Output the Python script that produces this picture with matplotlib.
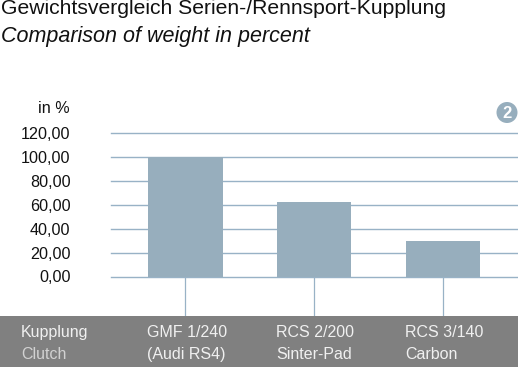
import matplotlib
matplotlib.use("Agg")
import matplotlib.pyplot as plt
from matplotlib.patches import Rectangle, Circle

categories = ["GMF 1/240", "RCS 2/200", "RCS 3/140"]
subcategories = ["(Audi RS4)", "Sinter-Pad", "Carbon"]
values = [100.0, 62.5, 29.5]
yticks = [0, 20, 40, 60, 80, 100, 120]
ytick_labels = ["0,00", "20,00", "40,00", "60,00", "80,00", "100,00", "120,00"]

W, H = 518, 368
BAR = "#97aebd"
GRID = "#98b2c6"
BAND = "#808080"
plt.rcParams["font.family"] = ["Liberation Sans", "DejaVu Sans"]

fig = plt.figure(figsize=(W / 100, H / 100), dpi=100, facecolor="white")
ax = fig.add_axes([111 / W, 1 - 276.5 / H, (W - 111) / W, 143.5 / H])
ax.set_xlim(-0.5775, 2.578)
ax.set_ylim(0, 120)
ax.patch.set_alpha(0)
for s in ax.spines.values():
    s.set_visible(False)
ax.set_axisbelow(True)
ax.yaxis.grid(True, color=GRID, lw=1.0)
for g in ax.get_ygridlines():
    g.set_clip_on(False)
ax.bar(range(len(values)), values, width=0.574, color=BAR, zorder=3)
ax.set_xticks(range(len(values)))
ax.set_xticklabels([])
ax.tick_params(axis="x", length=28.8, width=0.9, color=GRID)
ax.set_yticks(yticks)
ax.set_yticklabels(ytick_labels, fontsize=11.6, color="#111111")
ax.tick_params(axis="y", length=0, pad=29.2)
for g in ax.get_ygridlines():
    g.set_clip_on(False)

def T(x, y, s, **k):
    fig.text(x / W, 1 - y / H, s, va="baseline", **k)

T(1, 14, "Gewichtsvergleich Serien-/Rennsport-Kupplung", fontsize=15.2, color="#111111")
T(1, 42, "Comparison of weight in percent", fontsize=15.5, style="italic", color="#111111")
T(70, 113, "in %", ha="right", fontsize=11.6, color="#111111")

fig.add_artist(Rectangle((0, 1 - 367 / H), 1, 51 / H, transform=fig.transFigure, color=BAND, lw=0))

T(21, 337, "Kupplung", fontsize=11.5, color="#f0f0f0")
T(21, 359, "Clutch", fontsize=11.5, color="#d2d2d2")
for x, a, b in zip([147, 276, 405], categories, subcategories):
    T(x, 337, a, fontsize=11.5, color="#f0f0f0")
    T(x, 359, b, fontsize=11.5, color="#f0f0f0")

ax2 = fig.add_axes([0, 0, 1, 1], facecolor="none")
ax2.set_xlim(0, W); ax2.set_ylim(H, 0); ax2.axis("off")
ax2.add_patch(Circle((507, 112.5), 10.5, color=BAR, lw=0))
ax2.text(507, 113, "2", ha="center", va="center", color="white", fontsize=12, fontweight="bold")

fig.savefig("out.png", dpi=100)
